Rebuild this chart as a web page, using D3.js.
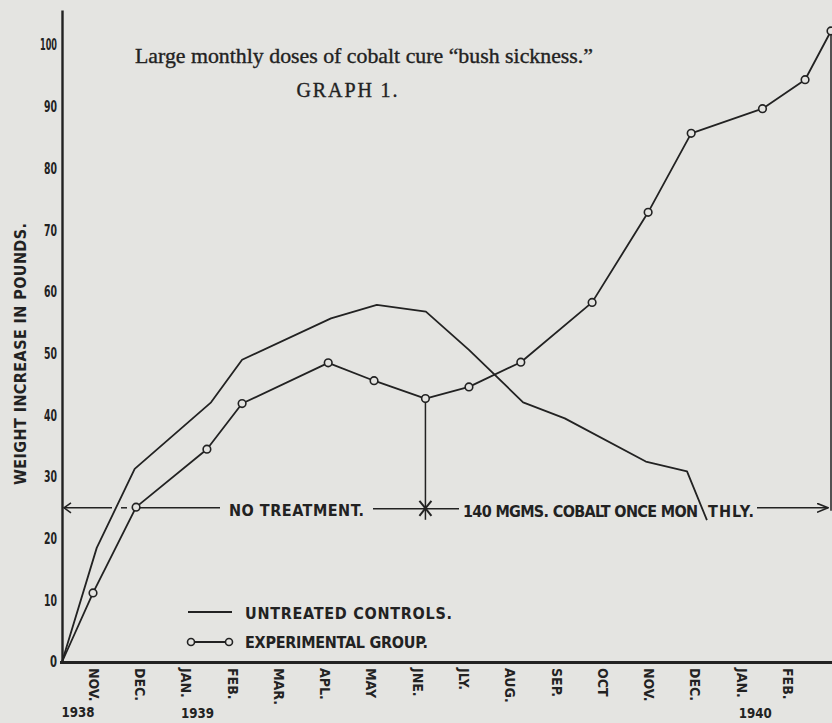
<!DOCTYPE html>
<html><head><meta charset="utf-8">
<script src="https://cdn.jsdelivr.net/npm/d3@7"></script>
<style>body{margin:0;background:#e4e4e1;} svg{display:block}</style>
</head><body><svg id="c" width="832" height="723"></svg>
<script>
// ---- data ----
const monthLabels = ["NOV.","DEC.","JAN.","FEB.","MAR.","APL.","MAY","JNE.","JLY.","AUG.","SEP.","OCT","NOV.","DEC.","JAN.","FEB."];
const monthIndex = d3.range(monthLabels.length);
const yearLabels = ["1938","1939","1940"];
const yearMonths = [0, 2, 14];
const yTicks = [0,10,20,30,40,50,60,70,80,90,100];

// experimental group (circles), x = months after Nov 1938 tick
const expMonths = [-0.67, 0, 0.93, 2.46, 3.22, 5.08, 6.07, 7.18, 8.12, 9.24, 10.78, 11.99, 12.92, 14.46, 15.38, 15.94];
const expValues = [0, 11.2, 25.1, 34.5, 41.9, 48.5, 45.6, 42.7, 44.6, 48.6, 58.3, 72.9, 85.7, 89.7, 94.4, 102.3];
// untreated controls (plain line)
const controlMonths = [-0.67, 0.08, 0.90, 2.55, 3.22, 5.14, 6.13, 7.19, 8.12, 9.29, 10.19, 11.94, 12.83, 13.26];
const controlValues = [0, 18.5, 31.3, 42.1, 49.0, 55.7, 57.9, 56.8, 50.6, 42.1, 39.5, 32.5, 30.9, 23.0];

const treatmentLevel = 25;     // level of the "treatment" arrow
const treatmentStart = 7;      // index into exp arrays (June 1939)

// ---- drawing ----
const W = 832, H = 723;
const ink = "#222";
const paper = "#e4e4e1";
const lab = "'DejaVu Sans Condensed', 'DejaVu Sans', sans-serif";
const svg = d3.select("#c");
svg.append("rect").attr("width", W).attr("height", H).attr("fill", paper);

const x = d3.scaleLinear().domain([-0.67, 15.94]).range([62, 831]);
const y = d3.scaleLinear().domain([0, 105.7]).range([662, 10]);

const defs = svg.append("defs");
defs.append("marker").attr("id","arrR").attr("viewBox","0 0 12 10").attr("refX",11).attr("refY",5)
  .attr("markerWidth",12).attr("markerHeight",10).attr("markerUnits","userSpaceOnUse").attr("orient","auto")
  .append("path").attr("d","M0,0.5 L11,5 L0,9.5").attr("fill","none").attr("stroke",ink).attr("stroke-width",1.6);

// axes
const yAxis = svg.append("g").attr("transform", `translate(${x(-0.67)},0)`)
  .call(d3.axisLeft(y).tickValues(yTicks).tickSize(0).tickSizeOuter(0).tickPadding(5).tickFormat(d3.format("d")));
yAxis.select(".domain").attr("stroke", ink).attr("stroke-width", 2.4);
yAxis.selectAll("text").attr("fill", ink).style("font-family", lab).style("font-weight", "bold").style("font-size", "15px")
  .attr("textLength", d => { const n = String(d).length; return n === 1 ? 7 : n === 2 ? 13 : 17; })
  .attr("lengthAdjust", "spacingAndGlyphs");

const xAxis = svg.append("g").attr("transform", `translate(0,${y(0)})`)
  .call(d3.axisBottom(x).tickValues(monthIndex).tickSize(0).tickSizeOuter(0).tickFormat(i => monthLabels[i]));
xAxis.select(".domain").attr("stroke", ink).attr("stroke-width", 2.8).attr("d", `M${x(-0.67)-2},0.5H${W}`);
xAxis.selectAll("text").attr("fill", ink).style("font-family", lab).style("font-weight", "bold").style("font-size", "14px")
  .attr("y", 0).attr("x", 6).attr("dy", "0.35em").attr("transform", "rotate(90)").style("text-anchor", "start");

// years
const yearDx = [-15, 12, 14], yearDy = [55, 56, 56];
svg.append("g").selectAll("text").data(yearLabels).join("text")
  .attr("x", (d, i) => x(yearMonths[i]) + yearDx[i]).attr("y", (d, i) => y(0) + yearDy[i])
  .attr("text-anchor", "middle").attr("fill", ink).style("font-family", lab).style("font-weight", "bold").style("font-size", "14px")
  .attr("textLength", 33).attr("lengthAdjust", "spacingAndGlyphs").text(d => d);

// y label
svg.append("text").attr("transform", "translate(26,354) rotate(-90)").attr("text-anchor", "middle")
  .attr("fill", ink).style("font-family", lab).style("font-weight", "bold").style("font-size", "16px")
  .attr("textLength", 262).attr("lengthAdjust", "spacing").text("WEIGHT INCREASE IN POUNDS.");

// title
svg.append("text").attr("x", 364).attr("y", 63).attr("text-anchor", "middle").attr("fill", ink)
  .attr("stroke", ink).attr("stroke-width", 0.35)
  .style("font-family", "'Liberation Serif', serif").style("font-size", "21px")
  .attr("textLength", 458).attr("lengthAdjust", "spacingAndGlyphs")
  .text("Large monthly doses of cobalt cure \u201Cbush sickness.\u201D");
svg.append("text").attr("x", 347).attr("y", 97).attr("text-anchor", "middle").attr("fill", ink)
  .attr("stroke", ink).attr("stroke-width", 0.35)
  .style("font-family", "'Liberation Serif', serif").style("font-size", "20px")
  .attr("textLength", 101).attr("lengthAdjust", "spacing").text("GRAPH 1.");

// treatment annotation
const ay = y(treatmentLevel);
const ann = svg.append("g").attr("stroke", ink).attr("stroke-width", 1.5).attr("fill", "none");
ann.append("path").attr("d", `M${x(-0.67)+9},${ay-5} L${x(-0.67)+2},${ay} L${x(-0.67)+9},${ay+5}`);
ann.append("line").attr("x1", x(-0.67)+2).attr("x2", 112).attr("y1", ay).attr("y2", ay);
ann.append("line").attr("x1", 121).attr("x2", 127).attr("y1", ay).attr("y2", ay);
ann.append("line").attr("x1", 140).attr("x2", 220).attr("y1", ay).attr("y2", ay);
const sx = x(expMonths[treatmentStart]);
ann.append("line").attr("x1", 373).attr("x2", 459).attr("y1", ay+1).attr("y2", ay+1);
ann.append("line").attr("x1", 757).attr("x2", x(15.94)-3).attr("y1", ay).attr("y2", ay).attr("marker-end", "url(#arrR)");
// vertical from June point down through the star
ann.append("line").attr("x1", sx).attr("x2", sx).attr("y1", y(expValues[treatmentStart]) + 4).attr("y2", ay + 12);
ann.append("line").attr("x1", sx-6).attr("x2", sx+6).attr("y1", ay-7).attr("y2", ay+8).attr("stroke-width", 2);
ann.append("line").attr("x1", sx-6).attr("x2", sx+6).attr("y1", ay+8).attr("y2", ay-7).attr("stroke-width", 2);
// right edge vertical from last point down to arrow
ann.append("line").attr("x1", x(15.94)).attr("x2", x(15.94)).attr("y1", y(expValues[expValues.length-1]) + 4).attr("y2", ay + 3);

const annText = svg.append("g").attr("fill", ink).style("font-family", lab).style("font-weight", "bold").style("font-size", "16px");
annText.append("text").attr("x", 229).attr("y", ay + 8).attr("textLength", 135).attr("lengthAdjust", "spacing").text("NO TREATMENT.");
const t2 = annText.append("text").attr("y", ay + 9);
t2.append("tspan").attr("x", 463).attr("textLength", 235).attr("lengthAdjust", "spacing").text("140 MGMS. COBALT ONCE MON");
t2.append("tspan").attr("x", 708).attr("textLength", 46).attr("lengthAdjust", "spacing").text("THLY.");

// lines
const line = d3.line().x(d => x(d[0])).y(d => y(d[1]));
svg.append("path").datum(controlMonths.map((m, i) => [m, controlValues[i]]))
  .attr("d", line).attr("fill", "none").attr("stroke", ink).attr("stroke-width", 1.8).attr("stroke-linejoin", "round");
svg.append("path").datum(expMonths.map((m, i) => [m, expValues[i]]))
  .attr("d", line).attr("fill", "none").attr("stroke", ink).attr("stroke-width", 1.8).attr("stroke-linejoin", "round");
svg.append("g").selectAll("circle").data(expMonths.slice(1).map((m, i) => [m, expValues[i+1]])).join("circle")
  .attr("cx", d => x(d[0])).attr("cy", d => y(d[1])).attr("r", 3.8)
  .attr("fill", paper).attr("stroke", ink).attr("stroke-width", 1.6);

// legend
const lg = svg.append("g");
lg.append("line").attr("x1", 188).attr("x2", 232).attr("y1", 612).attr("y2", 612).attr("stroke", ink).attr("stroke-width", 1.8);
lg.append("line").attr("x1", 191).attr("x2", 229).attr("y1", 642).attr("y2", 642).attr("stroke", ink).attr("stroke-width", 1.8);
lg.selectAll("circle").data([191, 229]).join("circle").attr("cx", d => d).attr("cy", 642).attr("r", 3.5)
  .attr("fill", paper).attr("stroke", ink).attr("stroke-width", 1.6);
const lgt = lg.append("g").attr("fill", ink).style("font-family", lab).style("font-weight", "bold").style("font-size", "16px");
lgt.append("text").attr("x", 245).attr("y", 619).attr("textLength", 207).attr("lengthAdjust", "spacing").text("UNTREATED CONTROLS.");
lgt.append("text").attr("x", 245).attr("y", 648).attr("textLength", 183).attr("lengthAdjust", "spacing").text("EXPERIMENTAL GROUP.");
</script>
</body></html>
